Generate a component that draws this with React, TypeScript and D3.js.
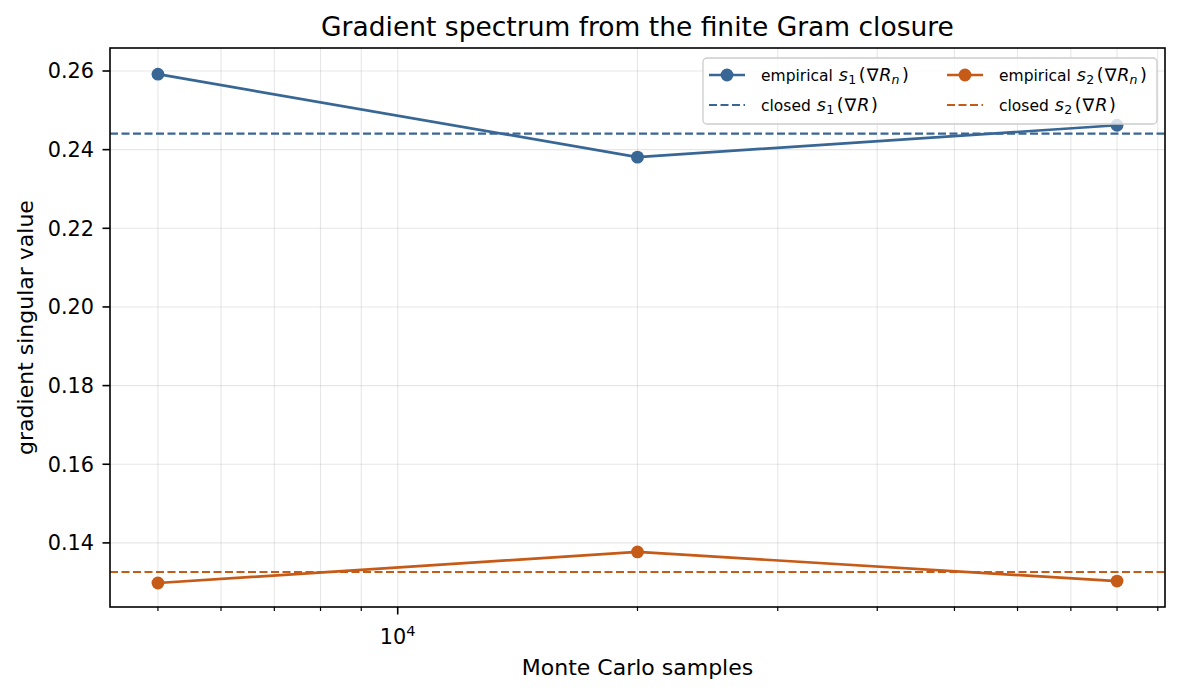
import React, { useRef, useEffect } from 'react';
import * as d3 from 'd3';

// Monte Carlo sample counts and measured singular values
const samples = [5000, 20000, 80000];
const empiricalS1 = [0.2592, 0.2381, 0.2462];
const empiricalS2 = [0.1298, 0.1377, 0.1303];
const closedS1 = 0.2441;
const closedS2 = 0.1326;
const yTicks = [0.14, 0.16, 0.18, 0.2, 0.22, 0.24, 0.26];
const xMinorTicks = [5000, 6000, 7000, 8000, 9000, 20000, 30000, 40000, 50000, 60000, 70000, 80000, 90000];

const BLUE = '#386795';
const ORANGE = '#c65a17';
const FONT = 'DejaVu Sans, sans-serif';

const width = 1181;
const height = 694;
const margin = { top: 48, right: 16, bottom: 87, left: 110 };

const App = () => {
  const svgRef = useRef<SVGSVGElement>(null);

  useEffect(() => {
    document.body.style.margin = '0';
    const svg = d3.select(svgRef.current);
    svg.selectAll('*').remove();

    const innerWidth = width - margin.left - margin.right;
    const innerHeight = height - margin.top - margin.bottom;

    const xScale = d3.scaleLog().domain([4353, 91900]).range([0, innerWidth]);
    const yScale = d3.scaleLinear().domain([0.1237, 0.26585]).range([innerHeight, 0]);

    const g = svg.append('g').attr('transform', `translate(${margin.left},${margin.top})`);

    // grid
    const grid = g.append('g').attr('stroke', '#b0b0b0').attr('stroke-opacity', 0.3).attr('stroke-width', 1.1);
    yTicks.forEach(t => {
      grid.append('line').attr('x1', 0).attr('x2', innerWidth).attr('y1', yScale(t)).attr('y2', yScale(t));
    });
    [...xMinorTicks, 10000].forEach(t => {
      grid.append('line').attr('x1', xScale(t)).attr('x2', xScale(t)).attr('y1', 0).attr('y2', innerHeight);
    });

    // closed-form reference lines
    const refs = [
      { v: closedS1, color: BLUE },
      { v: closedS2, color: ORANGE },
    ];
    refs.forEach(r => {
      g.append('line')
        .attr('x1', 0).attr('x2', innerWidth)
        .attr('y1', yScale(r.v)).attr('y2', yScale(r.v))
        .attr('stroke', r.color).attr('stroke-width', 2.2)
        .attr('stroke-dasharray', '8,3.5');
    });

    // empirical series
    const series = [
      { values: empiricalS1, color: BLUE },
      { values: empiricalS2, color: ORANGE },
    ];
    const line = d3.line<number>()
      .x((_, i) => xScale(samples[i]))
      .y(d => yScale(d));
    series.forEach(s => {
      g.append('path')
        .datum(s.values)
        .attr('fill', 'none')
        .attr('stroke', s.color)
        .attr('stroke-width', 2.7)
        .attr('d', line);
      g.selectAll(null)
        .data(s.values)
        .enter()
        .append('circle')
        .attr('cx', (_, i) => xScale(samples[i]))
        .attr('cy', d => yScale(d))
        .attr('r', 6.4)
        .attr('fill', s.color);
    });

    // axes frame
    g.append('rect')
      .attr('width', innerWidth).attr('height', innerHeight)
      .attr('fill', 'none').attr('stroke', '#000').attr('stroke-width', 1.6);

    // y ticks
    yTicks.forEach(t => {
      const y = yScale(t);
      g.append('line').attr('x1', -7.5).attr('x2', 0).attr('y1', y).attr('y2', y).attr('stroke', '#000').attr('stroke-width', 1.6);
      g.append('text')
        .attr('x', -16).attr('y', y).attr('dy', '0.36em')
        .attr('text-anchor', 'end')
        .attr('font-family', FONT).attr('font-size', 20.8)
        .text(d3.format('.2f')(t));
    });

    // x ticks
    xMinorTicks.forEach(t => {
      const x = xScale(t);
      g.append('line').attr('x1', x).attr('x2', x).attr('y1', innerHeight).attr('y2', innerHeight + 4).attr('stroke', '#000').attr('stroke-width', 1.2);
    });
    const x4 = xScale(10000);
    g.append('line').attr('x1', x4).attr('x2', x4).attr('y1', innerHeight).attr('y2', innerHeight + 7.5).attr('stroke', '#000').attr('stroke-width', 1.6);
    const tenLabel = g.append('text')
      .attr('x', x4).attr('y', innerHeight + 37)
      .attr('text-anchor', 'middle')
      .attr('font-family', FONT).attr('font-size', 20.8);
    tenLabel.append('tspan').text('10');
    tenLabel.append('tspan').attr('font-size', 14.5).attr('dy', -8.5).text('4');

    // axis labels and title
    svg.append('text')
      .attr('x', margin.left + innerWidth / 2).attr('y', 675)
      .attr('text-anchor', 'middle')
      .attr('font-family', FONT).attr('font-size', 22)
      .text('Monte Carlo samples');
    svg.append('text')
      .attr('transform', `translate(33,${margin.top + innerHeight / 2}) rotate(-90)`)
      .attr('text-anchor', 'middle')
      .attr('font-family', FONT).attr('font-size', 22)
      .text('gradient singular value');
    svg.append('text')
      .attr('x', margin.left + innerWidth / 2).attr('y', 36)
      .attr('text-anchor', 'middle')
      .attr('font-family', FONT).attr('font-size', 26.5)
      .text('Gradient spectrum from the finite Gram closure');

    // legend
    const lg = svg.append('g').attr('transform', 'translate(703,58)');
    lg.append('rect')
      .attr('width', 454).attr('height', 66).attr('rx', 4)
      .attr('fill', '#fff').attr('fill-opacity', 0.8)
      .attr('stroke', '#cccccc').attr('stroke-width', 1.3);
    const items = [
      { col: 0, row: 0, color: BLUE, dashed: false, prefix: 'empirical ', sub: '1', arg: 'n' },
      { col: 1, row: 0, color: ORANGE, dashed: false, prefix: 'empirical ', sub: '2', arg: 'n' },
      { col: 0, row: 1, color: BLUE, dashed: true, prefix: 'closed ', sub: '1', arg: '' },
      { col: 1, row: 1, color: ORANGE, dashed: true, prefix: 'closed ', sub: '2', arg: '' },
    ];
    const mathSize = 17.5;
    const subSize = 12.5;
    items.forEach(it => {
      const x0 = it.col === 0 ? 6 : 244;
      const y0 = it.row === 0 ? 17 : 47;
      const h = lg.append('line')
        .attr('x1', x0).attr('x2', x0 + 36).attr('y1', y0).attr('y2', y0)
        .attr('stroke', it.color).attr('stroke-width', it.dashed ? 2.2 : 2.7);
      if (it.dashed) h.attr('stroke-dasharray', '8,3.5');
      else lg.append('circle').attr('cx', x0 + 18).attr('cy', y0).attr('r', 6.4).attr('fill', it.color);
      const t = lg.append('text')
        .attr('x', x0 + 52).attr('y', y0).attr('dy', '0.36em')
        .attr('font-family', FONT).attr('font-size', 15.5);
      t.append('tspan').text(it.prefix);
      t.append('tspan').attr('font-size', mathSize).attr('dx', 1).attr('font-style', 'italic').text('s');
      t.append('tspan').attr('font-size', subSize).attr('dx', 0.5).attr('dy', 3.5).text(it.sub);
      t.append('tspan').attr('font-size', mathSize).attr('dx', 2.5).attr('dy', -3.5).text('(');
      t.append('tspan').attr('font-size', mathSize).attr('dx', 1).text('∇');
      t.append('tspan').attr('font-size', mathSize).attr('dx', 1).attr('font-style', 'italic').text('R');
      if (it.arg) {
        t.append('tspan').attr('font-size', subSize).attr('font-style', 'italic').attr('dy', 3.5).text(it.arg);
        t.append('tspan').attr('font-size', mathSize).attr('dx', 2.5).attr('dy', -3.5).text(')');
      } else {
        t.append('tspan').attr('font-size', mathSize).attr('dx', 1.5).text(')');
      }
    });
  }, []);

  return <svg ref={svgRef} width={width} height={height} style={{ display: 'block', background: '#fff' }} />;
};

export default App;
